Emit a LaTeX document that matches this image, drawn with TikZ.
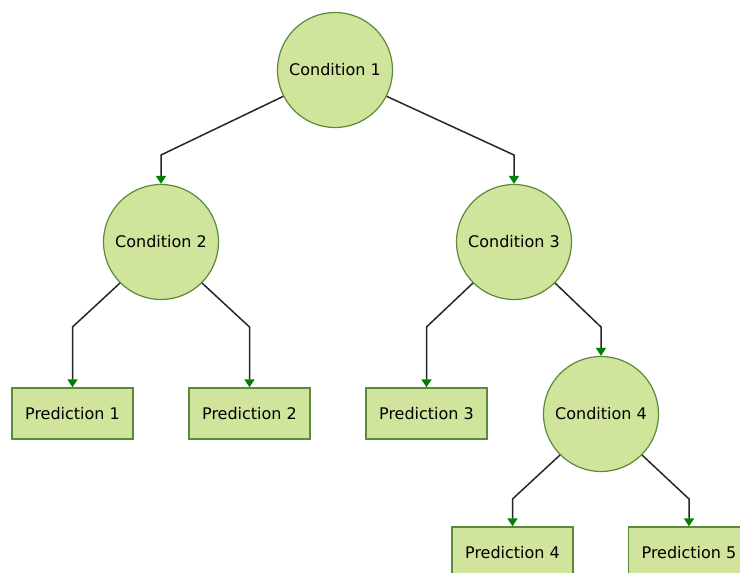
\documentclass[tikz,border=0pt]{standalone}
\usepackage{fontspec}
\setmainfont{DejaVu Sans}
\usetikzlibrary{arrows.meta}
\definecolor{nodefill}{RGB}{208,228,156}
\definecolor{nodeline}{RGB}{90,138,58}
\definecolor{tipgreen}{RGB}{0,128,0}
\tikzset{
  cond/.style={circle, draw=nodeline, fill=nodefill, line width=1.2pt, minimum size=115pt, inner sep=0pt, font=\fontsize{16}{18}\selectfont},
  pred/.style={rectangle, draw=nodeline, fill=nodefill, line width=1.4pt, minimum width=121pt, minimum height=51pt, inner sep=0pt, font=\fontsize{16}{18}\selectfont},
  link/.style={draw=black!85, line width=1.5pt, -{Triangle[color=tipgreen, width=10pt, length=8pt]}}
}
\begin{document}
\begin{tikzpicture}[x=1pt,y=1pt]
\useasboundingbox (0,0) rectangle (740,-573);
\node[cond] (c1) at (335,-70) {Condition 1};
\node[cond] (c2) at (161,-242) {Condition 2};
\node[cond] (c3) at (514,-242) {Condition 3};
\node[cond] (c4) at (601,-414) {Condition 4};
\node[pred] (p1) at (72.5,-413.5) {Prediction 1};
\node[pred] (p2) at (249.5,-413.5) {Prediction 2};
\node[pred] (p3) at (426.5,-413.5) {Prediction 3};
\node[pred] (p4) at (512.5,-552.5) {Prediction 4};
\node[pred] (p5) at (689,-552.5) {Prediction 5};
\coordinate (b12) at (161,-155);
\coordinate (b13) at (514,-155);
\coordinate (b21) at (72.5,-327);
\coordinate (b22) at (249.5,-327);
\coordinate (b31) at (426.5,-327);
\coordinate (b34) at (601,-327);
\coordinate (b44) at (512.5,-499);
\coordinate (b45) at (689,-499);
\draw[link] (c1.207) -- (b12) -- (c2.north);
\draw[link] (c1.333) -- (b13) -- (c3.north);
\draw[link] (c2.225) -- (b21) -- (p1.north);
\draw[link] (c2.315) -- (b22) -- (p2.north);
\draw[link] (c3.225) -- (b31) -- (p3.north);
\draw[link] (c3.315) -- (b34) -- (c4.north);
\draw[link] (c4.225) -- (b44) -- (p4.north);
\draw[link] (c4.315) -- (b45) -- (p5.north);
\end{tikzpicture}
\end{document}
